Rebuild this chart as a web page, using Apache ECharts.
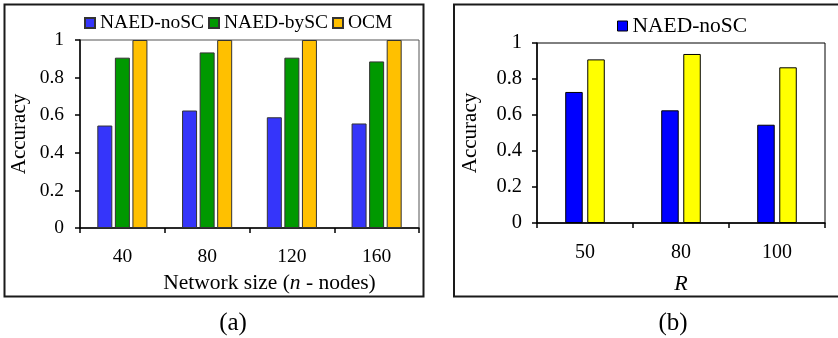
<!DOCTYPE html>
<html><head><meta charset="utf-8">
<script src="https://cdn.jsdelivr.net/npm/echarts@6/dist/echarts.min.js"></script>
<style>html,body{margin:0;padding:0;background:#fff}#c{width:838px;height:338px}</style>
</head><body><div id="c"></div>
<script>
var catsA = ['40', '80', '120', '160'];
var noScA = [0.545, 0.625, 0.589, 0.556];
var bySc = [0.906, 0.934, 0.906, 0.886];
var ocm = [1, 1, 1, 1];
var catsB = ['50', '80', '100'];
var noScB = [0.728, 0.626, 0.546];
var secondB = [0.909, 0.939, 0.865];

var FONT = 'Liberation Serif, Times New Roman, serif';
var chart = echarts.init(document.getElementById('c'), null, {renderer: 'canvas'});
var axisLine = {show: true, lineStyle: {color: '#000', width: 1.5}};
var tick = {show: true, inside: false, length: 5, lineStyle: {color: '#000', width: 1.5}};
chart.setOption({
  animation: false,
  textStyle: {fontFamily: FONT},
  legend: [
    {left: 84, top: 13, itemWidth: 10, itemHeight: 10, itemGap: 4, padding: 0, icon: 'rect',
     data: ['NAED-noSC', 'NAED-bySC', 'OCM'],
     textStyle: {fontFamily: FONT, fontSize: 19.5, color: '#000'}},
    {left: 617, top: 15, itemWidth: 10, itemHeight: 10, padding: 0, icon: 'rect',
     data: [{name: 'NAED-noSC (b)', itemStyle: {color: '#0000FF', borderColor: '#000', borderWidth: 1}}],
     formatter: function () { return 'NAED-noSC'; },
     textStyle: {fontFamily: FONT, fontSize: 21.5, color: '#000'}}
  ],
  grid: [
    {left: 80, top: 40, width: 339, height: 188, show: true, borderColor: '#555', borderWidth: 1},
    {left: 537, top: 43, width: 288, height: 180, show: true, borderColor: '#000', borderWidth: 1}
  ],
  xAxis: [
    {type: 'category', gridIndex: 0, data: catsA, axisLine: axisLine, axisTick: tick,
     axisLabel: {color: '#000', fontSize: 19.5, fontFamily: FONT, margin: 19},
     name: 'Network size ({i|n} - nodes)', nameLocation: 'middle', nameGap: 43,
     nameTextStyle: {color: '#000', fontSize: 21.5, fontFamily: FONT, padding: [0, 0, 0, 40],
       rich: {i: {fontStyle: 'italic', fontSize: 21.5, fontFamily: FONT, color: '#000'}}}},
    {type: 'category', gridIndex: 1, data: catsB, axisLine: axisLine, axisTick: tick,
     axisLabel: {color: '#000', fontSize: 20, fontFamily: FONT, margin: 20},
     name: 'R', nameLocation: 'middle', nameGap: 50,
     nameTextStyle: {color: '#000', fontSize: 22, fontFamily: FONT, fontStyle: 'italic'}}
  ],
  yAxis: [
    {type: 'value', gridIndex: 0, min: 0, max: 1, interval: 0.2, splitLine: {show: false},
     axisLine: axisLine, axisTick: tick,
     axisLabel: {color: '#000', fontSize: 19.5, fontFamily: FONT, margin: 16},
     name: 'Accuracy', nameLocation: 'middle', nameGap: 50,
     nameTextStyle: {color: '#000', fontSize: 21, fontFamily: FONT}},
    {type: 'value', gridIndex: 1, min: 0, max: 1, interval: 0.2, splitLine: {show: false},
     axisLine: axisLine, axisTick: tick,
     axisLabel: {color: '#000', fontSize: 20.5, fontFamily: FONT, margin: 15},
     name: 'Accuracy', nameLocation: 'middle', nameGap: 56,
     nameTextStyle: {color: '#000', fontSize: 21, fontFamily: FONT}}
  ],
  series: [
    {name: 'NAED-noSC', type: 'bar', xAxisIndex: 0, yAxisIndex: 0, data: noScA, barWidth: 15, barGap: '17%',
     itemStyle: {color: '#3535FA', borderColor: '#333', borderWidth: 1}},
    {name: 'NAED-bySC', type: 'bar', xAxisIndex: 0, yAxisIndex: 0, data: bySc, barWidth: 15, barGap: '17%',
     itemStyle: {color: '#009900', borderColor: '#333', borderWidth: 1}},
    {name: 'OCM', type: 'bar', xAxisIndex: 0, yAxisIndex: 0, data: ocm, barWidth: 15, barGap: '17%',
     itemStyle: {color: '#FFC000', borderColor: '#333', borderWidth: 1}},
    {name: 'NAED-noSC (b)', type: 'bar', xAxisIndex: 1, yAxisIndex: 1, data: noScB, barWidth: 17.5, barGap: '26%',
     itemStyle: {color: '#0000FF', borderColor: '#000', borderWidth: 1}},
    {name: 'Second (b)', type: 'bar', xAxisIndex: 1, yAxisIndex: 1, data: secondB, barWidth: 17.5, barGap: '26%',
     itemStyle: {color: '#FFFF00', borderColor: '#000', borderWidth: 1}}
  ],
  graphic: [
    {type: 'rect', shape: {x: 4.5, y: 4.5, width: 419, height: 292}, style: {fill: 'none', stroke: '#1a1a1a', lineWidth: 2}, silent: true},
    {type: 'rect', shape: {x: 454, y: 4.5, width: 400, height: 292}, style: {fill: 'none', stroke: '#1a1a1a', lineWidth: 2}, silent: true},
    {type: 'text', x: 233, y: 323, style: {text: '(a)', font: '25px ' + FONT, fill: '#000', textAlign: 'center', textVerticalAlign: 'middle'}},
    {type: 'text', x: 673, y: 323, style: {text: '(b)', font: '25px ' + FONT, fill: '#000', textAlign: 'center', textVerticalAlign: 'middle'}}
  ]
});
</script></body></html>
